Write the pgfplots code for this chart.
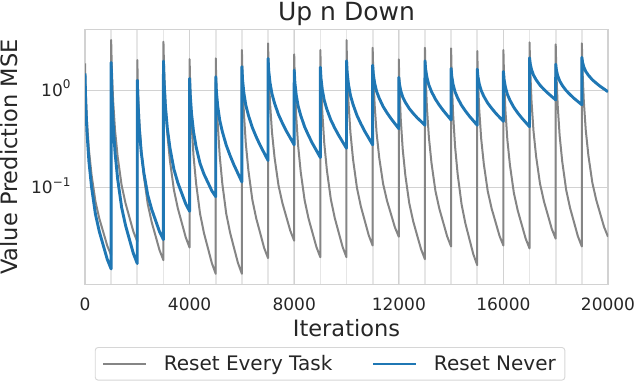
\documentclass[border=0pt]{standalone}
\usepackage{pgfplots}
\usepackage{pgfplotstable}
\pgfplotsset{compat=1.18}
\usepackage{fontspec}
\setmainfont{DejaVu Sans}

\definecolor{tabblue}{HTML}{1F77B4}
\definecolor{tabgray}{HTML}{858585}
\definecolor{txt}{HTML}{262626}
\definecolor{gridc}{HTML}{D2D2D2}
\definecolor{taskc}{HTML}{E6E6E6}
\definecolor{legc}{HTML}{D6D6D6}

% Reset Every Task
\pgfplotstableread{
x y
0 1.875
25 0.995
75 0.483
150 0.2455
250 0.136
400 0.0724
550 0.0482
700 0.0352
850 0.0256
999 0.0204
1000 3.25
1025 1.671
1075 0.782
1150 0.384
1250 0.207
1400 0.1064
1550 0.0695
1700 0.0498
1850 0.0357
1999 0.0282
2000 2.03
2025 1.047
2075 0.493
2150 0.243
2250 0.1318
2400 0.0681
2550 0.0446
2700 0.0321
2850 0.0230
2999 0.0182
3000 3.126
3025 1.585
3075 0.730
3150 0.353
3250 0.188
3400 0.0953
3550 0.0617
3700 0.0440
3850 0.0313
3999 0.0245
4000 2.075
4025 1.021
4075 0.455
4150 0.213
4250 0.1104
4400 0.0543
4550 0.0344
4700 0.0242
4850 0.0170
4999 0.0132
5000 2.109
5025 1.035
5075 0.460
5150 0.215
5250 0.1112
5400 0.0546
5550 0.0346
5700 0.0242
5850 0.0170
5999 0.0132
6000 2.570
6025 1.294
6075 0.590
6150 0.2825
6250 0.1496
6400 0.0752
6550 0.0484
6700 0.0344
6850 0.0243
6999 0.0191
7000 3.006
7025 1.567
7075 0.746
7150 0.372
7250 0.203
7400 0.1059
7550 0.0697
7700 0.0504
7850 0.0364
7999 0.0288
8000 2.317
8025 1.186
8075 0.552
8150 0.270
8250 0.1449
8400 0.0743
8550 0.0483
8700 0.0346
8850 0.0248
8999 0.0195
9000 2.570
9025 1.297
9075 0.594
9150 0.286
9250 0.1514
9400 0.0766
9550 0.0493
9700 0.0350
9850 0.0249
9999 0.0195
10000 3.251
10025 1.652
10075 0.760
10150 0.368
10250 0.196
10400 0.0998
10550 0.0644
10700 0.0459
10850 0.0327
10999 0.0257
11000 2.710
11025 1.452
11075 0.713
11150 0.366
11250 0.205
11400 0.1099
11550 0.0736
11700 0.0540
11850 0.0395
11999 0.0316
12000 2.061
12025 1.067
12075 0.502
12150 0.248
12250 0.1343
12400 0.0695
12550 0.0455
12700 0.0327
12850 0.0236
12999 0.0186
13000 2.710
13025 1.406
13075 0.665
13150 0.330
13250 0.1795
13400 0.0931
13550 0.0611
13700 0.0441
13850 0.0318
13999 0.0251
14000 2.673
14025 1.309
14075 0.578
14150 0.2685
14250 0.1384
14400 0.0678
14550 0.0428
14700 0.0299
14850 0.0209
14999 0.0162
15000 2.512
15025 1.321
15075 0.635
15150 0.319
15250 0.1762
15400 0.0927
15550 0.0614
15700 0.0446
15850 0.0323
15999 0.0257
16000 2.570
16025 1.337
16075 0.632
16150 0.313
16250 0.171
16400 0.0887
16550 0.0583
16700 0.0421
16850 0.0303
16999 0.0240
17000 3.076
17025 1.611
17075 0.769
17150 0.384
17250 0.2104
17400 0.1102
17550 0.0728
17700 0.0526
17850 0.0380
17999 0.0302
18000 2.938
18025 1.507
18075 0.705
18150 0.344
18250 0.1858
18400 0.0953
18550 0.0621
18700 0.0445
18850 0.0318
18999 0.0251
19000 3.006
19025 1.589
19075 0.767
19150 0.387
19250 0.2143
19400 0.1132
19550 0.0752
19700 0.0546
19850 0.0397
20000 0.0316
}\resetevery

% Reset Never
\pgfplotstableread{
x y
0 1.479
25 0.776
75 0.372
150 0.1862
250 0.1023
400 0.0537
550 0.0355
700 0.0257
850 0.0186
999 0.0148
1000 1.919
1025 0.989
1075 0.463
1150 0.2275
1250 0.1227
1400 0.0632
1550 0.0413
1700 0.0296
1850 0.0213
1999 0.0168
2000 1.259
2025 0.745
2075 0.408
2150 0.2323
2250 0.1429
2400 0.0843
2550 0.0603
2700 0.0463
2850 0.0356
2999 0.0295
3000 1.982
3025 1.208
3075 0.685
3150 0.403
3250 0.2547
3400 0.1549
3550 0.1127
3700 0.0879
3850 0.0687
3999 0.0575
4000 1.318
4025 0.893
4075 0.571
4150 0.376
4250 0.2618
4400 0.1774
4550 0.1380
4700 0.1135
4850 0.0933
4999 0.0813
5000 1.371
5025 0.968
5075 0.684
5150 0.495
5250 0.3776
5400 0.2735
5550 0.2133
5700 0.1706
5850 0.1400
5999 0.1148
6000 1.738
6025 1.276
6075 0.935
6150 0.701
6250 0.551
6400 0.413
6550 0.331
6700 0.2716
6850 0.2275
6999 0.1905
7000 2.109
7025 1.585
7075 1.191
7150 0.916
7250 0.731
7400 0.561
7550 0.458
7700 0.381
7850 0.324
7999 0.2754
8000 1.603
8025 1.202
8075 0.899
8150 0.689
8250 0.550
8400 0.420
8550 0.342
8700 0.2838
8850 0.241
8999 0.2042
9000 1.718
9025 1.315
9075 1.007
9150 0.785
9250 0.635
9400 0.495
9550 0.409
9700 0.345
9850 0.2958
9999 0.2541
10000 1.995
10025 1.514
10075 1.146
10150 0.885
10250 0.713
10400 0.551
10550 0.452
10700 0.378
10850 0.323
10999 0.2754
11000 1.799
11025 1.459
11075 1.183
11150 0.973
11250 0.826
11400 0.679
11550 0.585
11700 0.512
11850 0.454
11999 0.403
12000 1.349
12025 1.151
12075 0.984
12150 0.849
12250 0.750
12400 0.647
12550 0.578
12700 0.522
12850 0.478
12999 0.437
13000 1.995
13025 1.641
13075 1.352
13150 1.127
13250 0.966
13400 0.807
13550 0.701
13700 0.619
13850 0.553
13999 0.495
14000 1.667
14025 1.384
14075 1.146
14150 0.962
14250 0.830
14400 0.698
14550 0.610
14700 0.541
14850 0.486
14999 0.437
15000 1.641
15025 1.380
15075 1.161
15150 0.991
15250 0.865
15400 0.736
15550 0.652
15700 0.583
15850 0.528
15999 0.479
16000 1.549
16025 1.291
16075 1.076
16150 0.908
16250 0.787
16400 0.665
16550 0.583
16700 0.519
16850 0.468
16999 0.422
17000 2.138
17025 1.862
17075 1.622
17150 1.426
17250 1.276
17400 1.122
17550 1.016
17700 0.931
17850 0.859
17999 0.794
18000 1.841
18025 1.611
18075 1.409
18150 1.245
18250 1.119
18400 0.989
18550 0.899
18700 0.824
18850 0.764
18999 0.708
19000 2.163
19025 1.932
19075 1.722
19150 1.552
19250 1.419
19400 1.276
19550 1.178
19700 1.094
19850 1.026
20000 0.962
}\resetnever

\begin{document}
\begin{tikzpicture}
\begin{axis}[
    scale only axis,
    width=523pt, height=254.6pt,
    xmin=0, xmax=20000,
    ymin=0.0103, ymax=4.15,
    ymode=log,
    xtick={0,4000,...,20000},
    minor xtick={1000,2000,...,19000},
    ytick={0.1,1},
    minor ytick={},
    yticklabels={10\raisebox{7.5pt}{\fontsize{12}{12}\selectfont −1},
                 10\raisebox{7.5pt}{\fontsize{12}{12}\selectfont 0}},
    scaled x ticks=false,
    /pgf/number format/assume math mode=true,
    /pgf/number format/1000 sep={},
    major tick length=0pt, minor tick length=0pt,
    xmajorgrids=true, xminorgrids=true, ymajorgrids=true,
    major grid style={gridc, line width=0.9pt},
    minor grid style={taskc, line width=1.7pt},
    axis line style={gridc, line width=1.1pt},
    tick label style={font=\fontsize{17}{20}\selectfont, text=txt, inner sep=0pt},
    xticklabel style={anchor=base, yshift=-26.3pt},
    yticklabel style={anchor=base east, xshift=-14.3pt, yshift=-6.1pt},
    title={Up n Down},
    every axis title/.style={at={(0.5,1)}, anchor=base, yshift=9pt, inner sep=0pt,
                 font=\fontsize{25}{29}\selectfont, text=txt},
    xlabel={Iterations},
    xlabel style={at={(0.5,0)}, anchor=base, yshift=-51.7pt, inner sep=0pt,
                  font=\fontsize{22.5}{26}\selectfont, text=txt},
    ylabel={Value Prediction MSE},
    ylabel style={at={(-0.1294,0.5)}, anchor=base, inner sep=0pt,
                  font=\fontsize{22.5}{26}\selectfont, text=txt},
    legend columns=2,
    legend image code/.code={\draw[#1, line width=1.6pt] (0pt,0pt) -- (43pt,0pt);},
    legend style={at={(0.4685,-0.2463)}, anchor=north,
                  draw=legc, line width=0.9pt, rounded corners=3pt, fill=white,
                  font=\fontsize{20}{24}\selectfont, text=txt,
                  inner xsep=7pt, inner ysep=6pt,
                  /tikz/every odd column/.append style={column sep=15pt},
                  /tikz/every even column/.append style={column sep=38pt}},
    legend cell align=left,
]
\addplot[tabgray, line width=2pt, line join=round] table[x=x, y=y] {\resetevery};
\addlegendentry{Reset Every Task}
\addplot[tabblue, line width=2.9pt, line join=round] table[x=x, y=y] {\resetnever};
\addlegendentry{Reset Never}
\end{axis}
\pgfresetboundingbox
\path[use as bounding box]
  ([xshift=-85pt, yshift=-103.7pt]current axis.south west)
  rectangle ([xshift=30pt, yshift=29.7pt]current axis.north east);
\end{tikzpicture}
\end{document}
